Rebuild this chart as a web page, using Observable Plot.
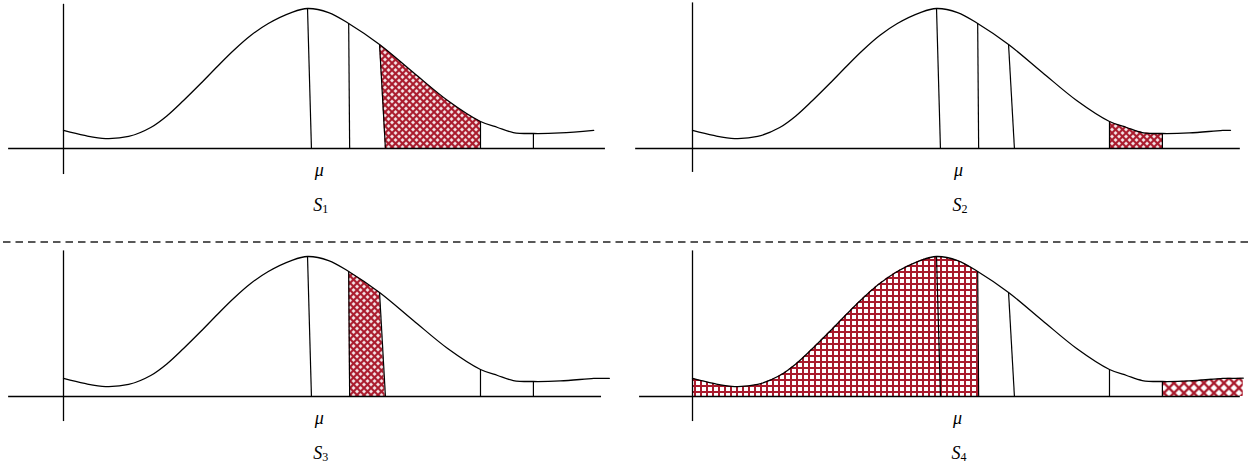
<!DOCTYPE html>
<html>
<head>
<meta charset="utf-8">
<script src="https://cdn.jsdelivr.net/npm/d3@7"></script>
<script src="https://cdn.jsdelivr.net/npm/@observablehq/plot@0.6"></script>
<style>
  html, body { margin: 0; padding: 0; background: #fff; }
  #chart { position: relative; width: 1253px; height: 470px; overflow: hidden; background: #fff; }
  #chart > svg { position: absolute; overflow: visible; }
</style>
</head>
<body>
<div id="chart"></div>
<script>
// ---------------- data ----------------
// density curve (x: from the vertical axis, mu at ~5; y: peak = 1)
const curveX = [0, 0.43, 0.86, 1.33, 1.78, 2.12, 2.45, 2.80, 3.14, 3.47, 3.82, 4.18, 4.65, 4.98, 5.41, 5.82, 6.45, 7.14, 7.84, 8.51, 8.86, 9.18, 9.59, 10.14, 10.82, 10.98, 11.14, 11.24];
const curveY = [0.129, 0.093, 0.071, 0.086, 0.15, 0.236, 0.343, 0.464, 0.586, 0.70, 0.807, 0.893, 0.971, 1.0, 0.971, 0.893, 0.743, 0.543, 0.343, 0.193, 0.15, 0.114, 0.107, 0.111, 0.129, 0.13, 0.13, 0.131];

// the five vertical lines (mu and four cut points), top on the curve, bottom on the axis
const lineTopX    = [4.98, 5.82, 6.45, 8.51, 9.59];
const lineBottomX = [5.06, 5.84, 6.57, 8.51, 9.59];
const lineTopY    = [1.0, 0.893, 0.743, 0.193, 0.107];

// panels
const panelSymbol    = ["S", "S", "S", "S"];
const panelSubscript = ["1", "2", "3", "4"];
const muSymbol = "μ";
const labelX      = [5.22, 5.43, 5.22, 5.41];
const curveEnd    = [10.82, 10.98, 11.14, 11.24];
const xAxisFrom   = [-1.12, -1.16, -1.12, -1.08];
const xAxisTo     = [11.06, 11.18, 10.98, 11.18];
const yAxisTop    = [1.03, 1.04, 1.04, 1.04];
const yAxisBottom = [-0.186, -0.171, -0.179, -0.179];

// shaded regions: panel, from-edge, to-edge (line index, "axis" or "end"), pattern
const hatchPanel   = [0, 1, 2, 3, 3];
const hatchFrom    = [2, 3, 1, "axis", 4];
const hatchTo      = [3, 4, 2, 1, "end"];
const hatchPattern = ["diamond", "diamond", "diamond", "grid", "cross"];

// ---------------- layout / style ----------------
const L = {
  left: [0, 629, 0, 629], top: [0, 0, 248, 248],
  width: [626, 624, 626, 624], height: [236, 236, 222, 222],
  axisPx: 63, unitPx: 49, baselinePx: 148, yUnitPx: 140
};
const INK = "#000";
const RED = "#a91a2c";
const FONT = "'Liberation Serif', 'Times New Roman', serif";
const PATTERNS = {
  diamond: {size: 4.95, line: 2.3, rotate: 45},
  grid:    {size: 6.0,  line: 2.0, rotate: 0},
  cross:   {size: 7.07, line: 2.4, rotate: 45}
};

const chart = document.getElementById("chart");

function drawPanel(i) {
  const endX = curveEnd[i];
  const pts = curveX.map((x, k) => ({x, y: curveY[k]})).filter(d => d.x <= endX + 1e-9);
  const lines = lineTopX.map((xt, k) => ({x1: xt, y1: lineTopY[k], x2: lineBottomX[k], y2: 0}));
  const hatches = hatchPanel.map((p, h) => ({p, h})).filter(d => d.p === i);
  const W = L.width[i], H = L.height[i];

  const marks = [];
  hatches.forEach(() => {
    marks.push(Plot.areaY(pts, {x: "x", y: "y", curve: "catmull-rom", fill: RED}));
  });
  marks.push(
    Plot.ruleY([0], {x1: xAxisFrom[i], x2: xAxisTo[i], stroke: INK, strokeWidth: 1.3}),
    Plot.ruleX([0], {y1: yAxisBottom[i], y2: yAxisTop[i], stroke: INK, strokeWidth: 1.3}),
    Plot.link(lines, {x1: "x1", y1: "y1", x2: "x2", y2: "y2", stroke: INK, strokeWidth: 1.2}),
    Plot.line(pts, {x: "x", y: "y", curve: "catmull-rom", stroke: INK, strokeWidth: 1.3}),
    Plot.text([muSymbol], {x: labelX[i], y: 0, text: d => d, dy: 22,
      fontFamily: FONT, fontStyle: "italic", fontSize: 18, fill: INK}),
    Plot.text([panelSymbol[i]], {x: labelX[i], y: 0, text: d => d, dy: 57, dx: 3, textAnchor: "end",
      fontFamily: FONT, fontStyle: "italic", fontSize: 18, fill: INK}),
    Plot.text([panelSubscript[i]], {x: labelX[i], y: 0, text: d => d, dy: 61, dx: 3, textAnchor: "start",
      fontFamily: FONT, fontSize: 12, fill: INK})
  );

  const plot = Plot.plot({
    width: W, height: H,
    marginTop: 0, marginRight: 0, marginBottom: 0, marginLeft: 0,
    style: {background: "transparent", overflow: "visible"},
    x: {domain: [-L.axisPx / L.unitPx, (W - L.axisPx) / L.unitPx], axis: null},
    y: {domain: [(L.baselinePx - H) / L.yUnitPx, L.baselinePx / L.yUnitPx], axis: null},
    marks
  });

  const svg = d3.select(plot);
  const groups = svg.selectAll(":scope > g").nodes();
  const defs = svg.insert("defs", ":first-child");

  // hatch patterns, local to this svg
  Object.entries(PATTERNS).forEach(([name, p]) => {
    const pat = defs.append("pattern").attr("id", `${name}-${i}`)
      .attr("patternUnits", "userSpaceOnUse")
      .attr("width", p.size).attr("height", p.size);
    if (p.rotate) pat.attr("patternTransform", `rotate(${p.rotate})`);
    pat.append("rect").attr("width", p.size).attr("height", p.size).attr("fill", RED);
    pat.append("rect").attr("x", p.line / 2).attr("y", p.line / 2)
      .attr("width", p.size - p.line).attr("height", p.size - p.line).attr("fill", "#fff");
  });

  // clip each shaded area between its two edge lines, using the plot's scales
  const sx = plot.scale("x"), sy = plot.scale("y");
  const fx = d3.scaleLinear(sx.domain, sx.range), fy = d3.scaleLinear(sy.domain, sy.range);
  const yb = fy(0);
  const edge = key => {
    if (key === "axis") return {xb: fx(0), xt: fx(0), yt: fy(1)};
    if (key === "end") return {xb: fx(endX) + 2, xt: fx(endX) + 2, yt: fy(1)};
    return {xb: fx(lineBottomX[key]), xt: fx(lineTopX[key]), yt: fy(lineTopY[key])};
  };
  const xTop = e => e.xb + (e.xt - e.xb) * yb / (yb - e.yt);
  hatches.forEach(({h}, k) => {
    const a = edge(hatchFrom[h]), b = edge(hatchTo[h]);
    const poly = [[a.xb, yb + 2], [xTop(a), -2], [xTop(b), -2], [b.xb, yb + 2]];
    const id = `clip-${i}-${h}`;
    defs.append("clipPath").attr("id", id).append("polygon")
      .attr("points", poly.map(p => p.join(",")).join(" "));
    const url = `url(#${hatchPattern[h]}-${i})`;
    const g = d3.select(groups[k]);
    g.attr("clip-path", `url(#${id})`).attr("fill", url);
    g.selectAll("path").attr("fill", url);
  });

  plot.style.left = L.left[i] + "px";
  plot.style.top = L.top[i] + "px";
  chart.appendChild(plot);
}

[0, 1, 2, 3].forEach(drawPanel);

// dashed separator between the two rows
const sep = d3.select(chart).append("svg")
  .attr("width", 1253).attr("height", 12)
  .style("left", "0px").style("top", "236px");
sep.append("line")
  .attr("x1", 3).attr("x2", 1253).attr("y1", 6).attr("y2", 6)
  .attr("stroke", "#222").attr("stroke-width", 1.3).attr("stroke-dasharray", "7.5,5");
</script>
</body>
</html>
